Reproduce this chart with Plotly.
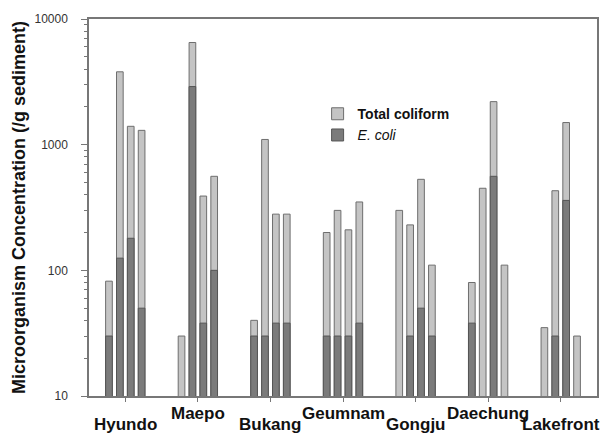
import plotly.graph_objects as go

sites = ["Hyundo", "Maepo", "Bukang", "Geumnam", "Gongju", "Daechung", "Lakefront"]
total_coliform = [
    [82, 3800, 1400, 1300],
    [30, 6500, 390, 560],
    [40, 1100, 280, 280],
    [200, 300, 210, 350],
    [300, 230, 530, 110],
    [80, 450, 2200, 110],
    [35, 430, 1500, 30],
]
e_coli = [
    [30, 125, 180, 50],
    [None, 2900, 38, 100],
    [30, 30, 38, 38],
    [30, 30, 30, 38],
    [None, 30, 50, 30],
    [38, None, 560, None],
    [None, 30, 360, None],
]
y_tickvals = [10, 100, 1000, 10000]
y_ticktext = ["10", "100", "1000", "10000"]

FONT = "Arial, Liberation Sans, sans-serif"
n_samples = 4
spacing = 0.15
bw = 0.092

xs, offs, tc_vals, ec_vals = [], [], [], []
for i, s in enumerate(sites):
    for j in range(n_samples):
        xs.append(s)
        offs.append((j - (n_samples - 1) / 2) * spacing - bw / 2)
        tc_vals.append(total_coliform[i][j])
        ec_vals.append(e_coli[i][j])

fig = go.Figure()
fig.add_trace(go.Bar(
    x=xs, y=tc_vals, offset=offs, width=bw, name="<b>Total coliform</b>",
    marker=dict(color="#c4c4c4", line=dict(color="#6e6e6e", width=1)),
))
fig.add_trace(go.Bar(
    x=xs, y=ec_vals, offset=offs, width=bw, name="<i>E. coli</i>",
    marker=dict(color="#7b7b7b", line=dict(color="#555555", width=1)),
))

annotations = []
for i, s in enumerate(sites):
    annotations.append(dict(
        x=s, xref="x", y=0, yref="paper", yanchor="top",
        yshift=-17 if i % 2 == 0 else -6,
        text="<b>" + s + "</b>", showarrow=False,
        font=dict(family=FONT, size=17, color="#111111"),
    ))

fig.update_layout(
    width=613, height=444,
    margin=dict(l=89, r=16, t=13, b=48),
    paper_bgcolor="white", plot_bgcolor="white",
    barmode="overlay",
    showlegend=True,
    legend=dict(
        x=0.45, y=0.79, xanchor="left", yanchor="top",
        bgcolor="rgba(0,0,0,0)", font=dict(family=FONT, size=14, color="#111111"),
        tracegroupgap=0, itemwidth=30,
    ),
    annotations=annotations,
    font=dict(family=FONT),
)
fig.update_xaxes(
    type="category", range=[-0.5, len(sites) - 0.5],
    showline=True, linecolor="#777777", linewidth=1.5, mirror=True,
    ticks="outside", ticklen=4, tickcolor="#777777", showticklabels=False,
    showgrid=False, zeroline=False,
)
fig.update_yaxes(
    type="log", range=[1, 4],
    tickvals=y_tickvals, ticktext=y_ticktext,
    showline=True, linecolor="#777777", linewidth=1.5, mirror=True,
    ticks="outside", ticklen=6, tickcolor="#777777",
    minor=dict(ticks="outside", ticklen=3, dtick="D1", tickcolor="#777777", showgrid=False),
    tickfont=dict(family=FONT, size=12, color="#333333"),
    ticklabelstandoff=11,
    showgrid=False, zeroline=False,
    title=dict(text="<b>Microorganism Concentration (/g sediment)</b>",
               font=dict(family=FONT, size=18, color="#111111"), standoff=4),
)

fig.write_html("out.html")
